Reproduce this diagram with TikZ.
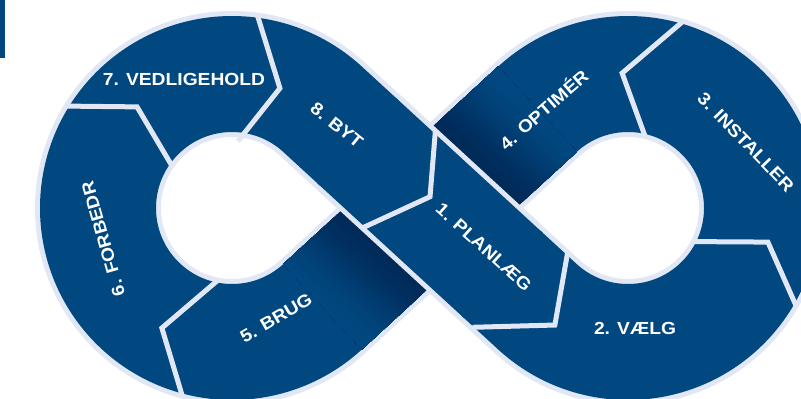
\documentclass[tikz,border=0pt]{standalone}
\usepackage{fontspec}
\newfontfamily\lblfont[FakeStretch=1.1]{Liberation Sans}
\usetikzlibrary{calc}
\definecolor{blueC}{RGB}{1,71,128}
\definecolor{lightC}{RGB}{225,231,244}
\definecolor{shadowC}{RGB}{0,42,88}
\tikzset{
  sep/.style={draw=lightC, line width=5pt, line join=miter},
  lbl/.style={text=white, inner sep=0pt, text height=12.5pt, text depth=0pt,
              font=\lblfont\bfseries\fontsize{17.5}{20}\selectfont},
}
\begin{document}
\begin{tikzpicture}[x=1pt,y=1pt]
\useasboundingbox (0,0) rectangle (801,399);
\clip (0,0) rectangle (801,399);
\coordinate (C1) at (232,191);
\coordinate (C2) at (628,191);
\coordinate (M) at (430,191);
\coordinate (TA1) at (322.68,289.65);
\coordinate (TA2) at (537.32,92.35);
\coordinate (TB1) at (322.68,92.35);
\coordinate (TB2) at (537.32,289.65);
% corner mark
\fill[blueC] (0,341) rectangle (5,399);
% figure eight band
\foreach \col/\wid in {lightC/126pt, blueC/116pt}{
  \draw[\col, line width=\wid, line join=round] (M) -- (TA2)
    arc[start angle=227.406, end angle=492.594, radius=134pt] -- (TB1)
    arc[start angle=-47.406, end angle=-312.594, radius=134pt] -- cycle;
}
% shadow of the upper strip on the lower strip
\begin{scope}
  \clip[shift={(M)}, rotate=42.594] (-146,-58) rectangle (146,58);
  \begin{scope}[shift={(M)}, rotate=47.406]
    \foreach \i in {0,...,49}{
      \pgfmathsetmacro\posS{58+\i*86/50}
      \pgfmathsetmacro\tt{\i/49}
      \pgfmathsetmacro\mixC{100*(3*\tt*\tt-2*\tt*\tt*\tt)}
      \fill[blueC!\mixC!shadowC] (\posS,-200) rectangle (300,200);
      \fill[blueC!\mixC!shadowC] (-\posS,-200) rectangle (-300,200);
    }
  \end{scope}
\end{scope}
% upper strip over the crossing
\draw[lightC, line width=126pt] ($(M)+(137.406:96)$) -- ($(M)+(-42.594:96)$);
\draw[blueC, line width=116pt] ($(M)+(137.406:100)$) -- ($(M)+(-42.594:100)$);
% separators
\draw[sep] ($(C1)+(82.5:194.5)$) -- ($(C1)+(68.2:129)$) -- ($(C1)+(85:67)$);
\draw[sep] ($(C1)+(148.4:194.5)$) -- ($(C1)+(133.2:138.7)$) -- ($(C1)+(144.9:73.5)$);
\draw[sep] ($(C1)+(259:73.5)$) -- ($(C1)+(239.7:139)$) -- ($(C1)+(255.2:194.5)$);
\draw[sep] ($(C2)+(216.4:75)$) -- ($(C2)+(238:138)$) -- ($(C2)+(217.5:196)$);
\draw[sep] ($(C2)+(332.8:73.5)$) -- ($(C2)+(346.3:144)$) -- ($(C2)+(329.8:194.5)$);
\draw[sep] ($(C2)+(73.6:194.5)$) -- ($(C2)+(92.5:135)$) -- ($(C2)+(76.5:73.5)$);
\begin{scope}[shift={(M)}, rotate=-42.594]
  \draw[sep] (-36.3,-60.5) -- (-7.6,8.3) -- (-48.3,60.5);
\end{scope}
% labels
\node[lbl] (t7) at (184,320) {7. VEDLIGEHOLD};
\node[lbl, rotate=-39] (t8) at (337,274) {8. BYT};
\node[lbl, rotate=-42] (t1) at (484,152) {1. PLANLÆG};
\node[lbl] (t2) at (635,71) {2. VÆLG};
\node[lbl, rotate=-46] (t3) at (746,257) {3. INSTALLER};
\node[lbl, rotate=41] (t4) at (544,289) {4. OPTIMÉR};
\node[lbl, rotate=30] (t5) at (276,81) {5. BRUG};
\node[lbl, rotate=106] (t6) at (103,160) {6. FORBEDR};
\end{tikzpicture}
\end{document}
